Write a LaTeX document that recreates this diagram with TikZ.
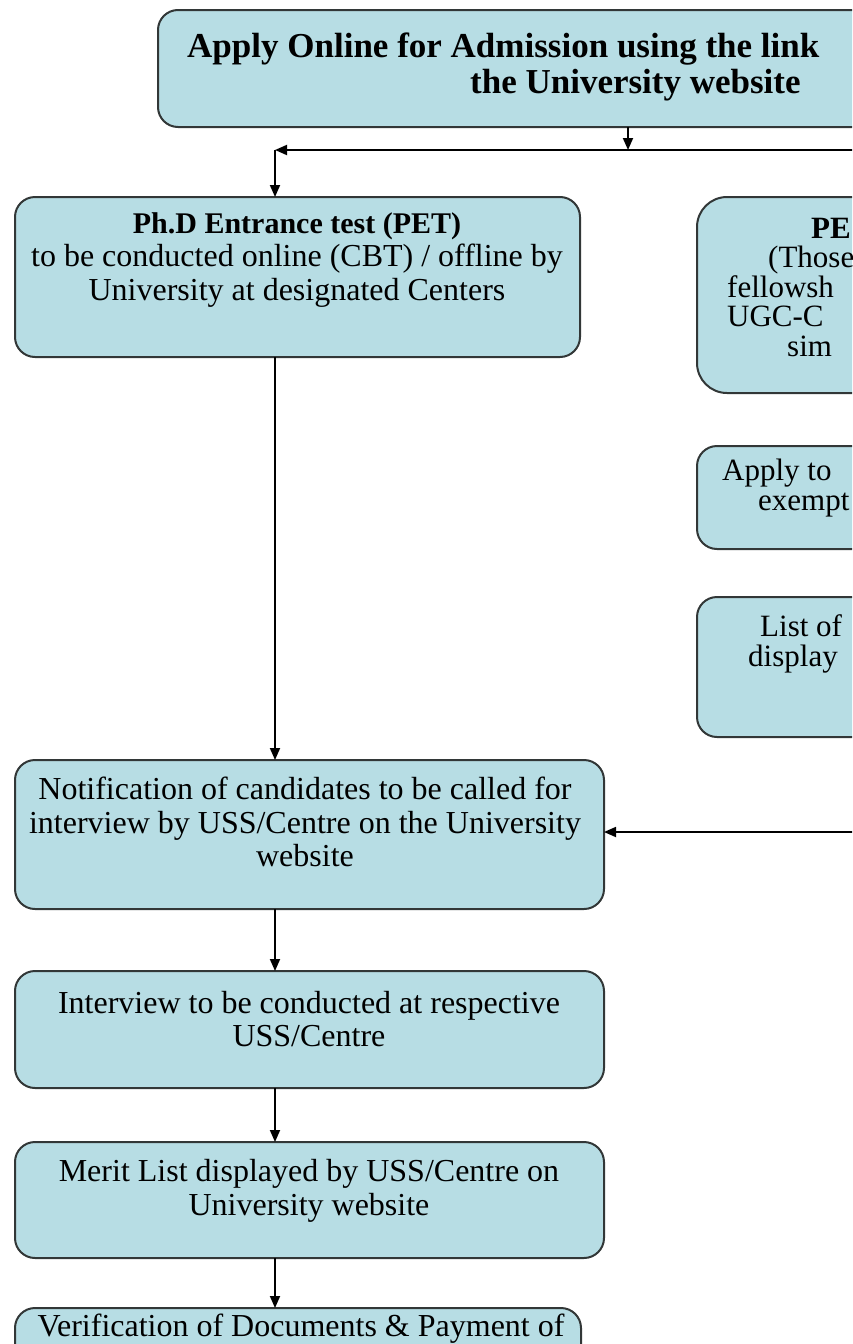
\documentclass[tikz,border=0pt]{standalone}
\usepackage{fontspec}
\setmainfont{Liberation Serif}
\usetikzlibrary{arrows.meta}

\definecolor{boxfill}{RGB}{183,221,228}
\definecolor{boxline}{RGB}{50,55,55}

\tikzset{
  box/.style={draw=boxline, fill=boxfill, line width=2pt, rounded corners=20pt,
    anchor=north west, inner sep=0pt, outer sep=0pt},
  txt/.style={inner sep=0pt, align=center, font=\fontsize{32}{33.5}\selectfont},
  frag/.style={inner sep=0pt, anchor=west, align=left, font=\fontsize{31}{29.5}\selectfont},
  arr/.style={line width=1.8pt, -{Triangle[length=12pt,width=10pt]}}
}

\begin{document}
\begin{tikzpicture}[x=1pt,y=-1pt]

  \useasboundingbox (0,0) rectangle (852,1344);
  \clip (0,0) rectangle (852,1344);

  \coordinate (spine) at (275,150); % left branch corner
  \coordinate (junc) at (628,150);  % under the top box
  \coordinate (rend) at (900,150);  % runs off to the right
  \coordinate (back) at (900,832);  % return from the right column

  % top box
  \node[box, minimum width=940pt, minimum height=117pt] (apply) at (158,10) {};
  \node[inner sep=0pt, anchor=west, align=left, font=\bfseries\fontsize{35}{35.5}\selectfont] (applyT)
    at (187,67) {Apply Online for Admission using the link\\\hspace*{283pt}the University website};

  % left column
  \node[box, minimum width=565pt, minimum height=160pt] (pet) at (15,197) {};
  \node[txt] (petT) at (297,260) {\textbf{\fontsize{30}{33.5}\selectfont Ph.D Entrance test (PET)}\\
    to be conducted online (CBT) / offline by\\University at designated Centers};

  \node[box, minimum width=589pt, minimum height=149pt] (notify) at (15,760) {};
  \node[txt] (notifyT) at (305,822) {Notification of candidates to be called for\\
    interview by USS/Centre on the University\\website};

  \node[box, minimum width=589pt, minimum height=117pt] (intv) at (15,971) {};
  \node[txt] (intvT) at (309,1019) {Interview to be conducted at respective\\USS/Centre};

  \node[box, minimum width=589pt, minimum height=116pt] (merit) at (15,1142) {};
  \node[txt] (meritT) at (309,1191) {Merit List displayed by USS/Centre on\\University website};

  \node[box, minimum width=566pt, minimum height=120pt] (verify) at (15,1308) {};
  \node[txt] (verifyT) at (301,1329) {Verification of Documents \& Payment of};

  % right column (cut off by the page edge)
  \node[box, rounded corners=30pt, minimum width=500pt, minimum height=196pt] (exempt) at (697,197) {};
  \node[frag] (exemptT) at (727,287) {\hspace*{84pt}\textbf{PE}\\\hspace*{41pt}(Those\\fellowsh\\UGC-C\\\hspace*{60pt}sim};

  \node[box, minimum width=500pt, minimum height=103pt] (applyx) at (697,446) {};
  \node[frag] (applyxT) at (722,488) {Apply to\\\hspace*{36pt}exempt};

  \node[box, minimum width=500pt, minimum height=140pt] (listx) at (697,597) {};
  \node[frag] (listxT) at (748,644) {\hspace*{12pt}List of\\display};

  % connectors
  \draw[arr] (apply.south -| junc) -- (junc);
  \draw[arr] (rend) -- (spine);
  \draw[arr] (spine) -- (spine |- pet.north);
  \draw[arr] (spine |- pet.south) -- (spine |- notify.north);
  \draw[arr] (back) -- (back -| notify.east);
  \draw[arr] (spine |- notify.south) -- (spine |- intv.north);
  \draw[arr] (spine |- intv.south) -- (spine |- merit.north);
  \draw[arr] (spine |- merit.south) -- (spine |- verify.north);
\end{tikzpicture}
\end{document}
